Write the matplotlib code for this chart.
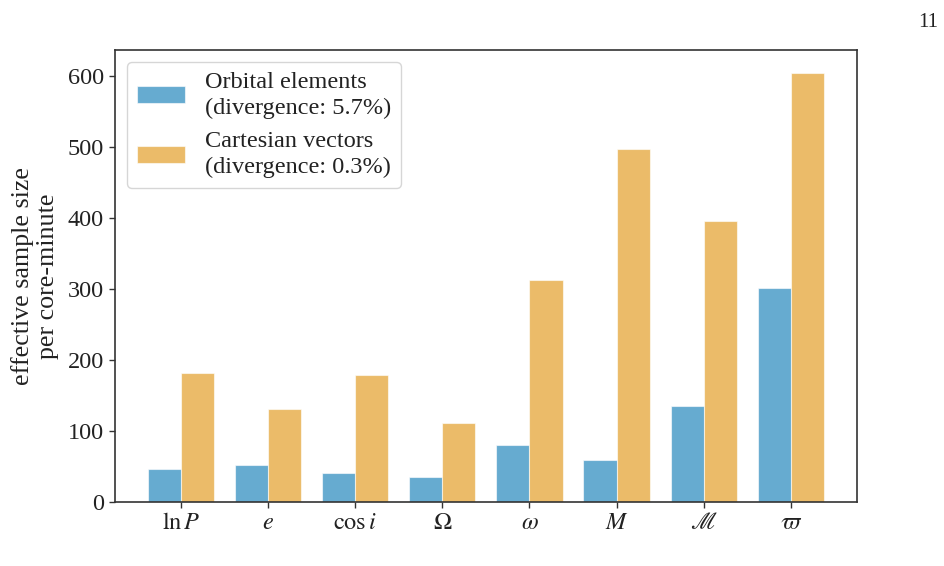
import matplotlib
matplotlib.use("Agg")
import matplotlib.pyplot as plt
import numpy as np

params = [r"$\ln P$", r"$e$", r"$\cos i$", r"$\Omega$", r"$\omega$", r"$M$", "$\u2133$", r"$\varpi$"]
orbital = [46, 52, 41, 35, 80, 59, 135, 301]
cartesian = [182, 131, 179, 111, 313, 497, 396, 604]
labels = ["Orbital elements\n(divergence: 5.7%)", "Cartesian vectors\n(divergence: 0.3%)"]

plt.rcParams["font.family"] = ["Liberation Serif", "DejaVu Serif"]
plt.rcParams["mathtext.fontset"] = "stix"
plt.rcParams["font.size"] = 17.5

fig = plt.figure(figsize=(9.45, 5.66), dpi=100)
ax = fig.add_axes([0.1217, 0.1131, 0.785, 0.7986])

x = np.arange(len(params))
w = 0.38
c1 = "#0173b2"
c2 = "#de8f05"
ax.bar(x - w / 2, orbital, w, color=c1, alpha=0.6, edgecolor="white", linewidth=0.8, label=labels[0])
ax.bar(x + w / 2, cartesian, w, color=c2, alpha=0.6, edgecolor="white", linewidth=0.8, label=labels[1])

ax.set_xlim(-0.76, 7.76)
ax.set_ylim(0, 636)
ax.set_xticks(x)
ax.set_xticklabels(params)
ax.set_yticks([0, 100, 200, 300, 400, 500, 600])
ax.tick_params(direction="out", length=4.5, width=1, color="#333333", labelcolor="#222222")
for s in ax.spines.values():
    s.set_color("#333333")
    s.set_linewidth(1.2)
ax.set_ylabel("effective sample size\nper core-minute", color="#222222", linespacing=1.2,
              fontsize=18.7, labelpad=6)
leg = ax.legend(loc="upper left", frameon=True, fancybox=True, handlelength=2.0, labelspacing=0.5)
leg.get_frame().set_edgecolor("#cccccc")
for t in leg.get_texts():
    t.set_color("#222222")
    t.set_linespacing(1.3)

fig.text(0.993, 0.96, "11", ha="right", va="center", fontsize=15, color="#222222")

fig.savefig("out.png", dpi=100)
